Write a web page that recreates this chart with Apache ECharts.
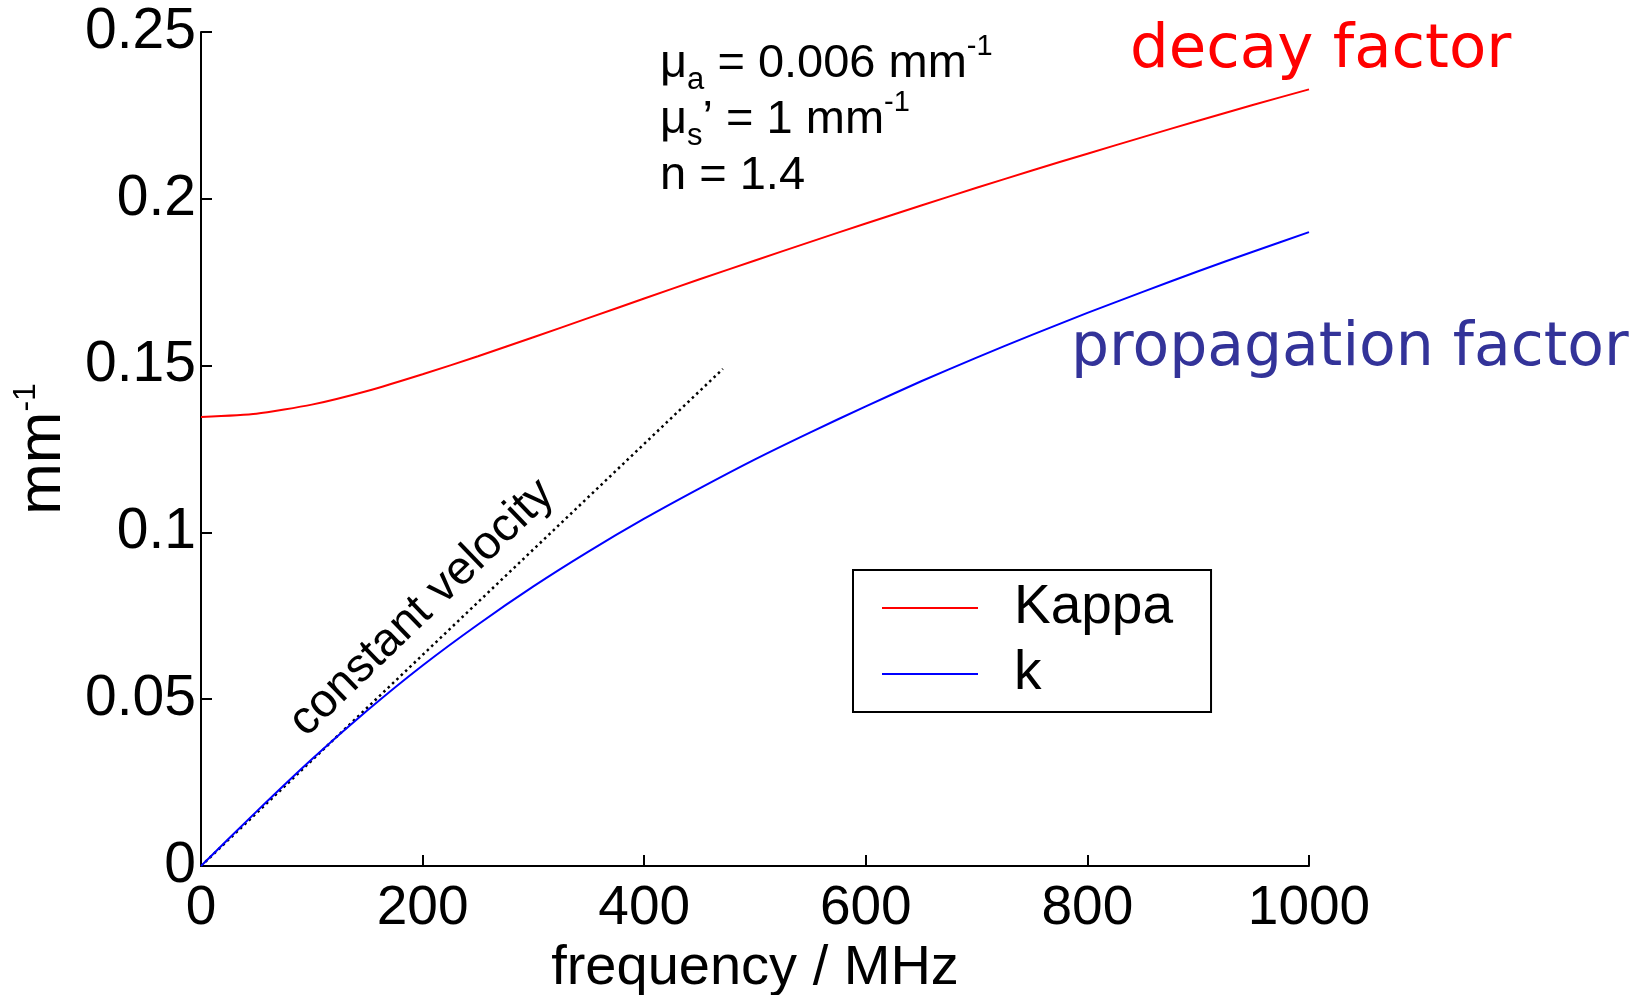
<!DOCTYPE html>
<html>
<head>
<meta charset="utf-8">
<title>Diffusion wave: Kappa and k vs frequency</title>
<script src="https://cdn.jsdelivr.net/npm/echarts@6/dist/echarts.min.js"></script>
<style>
  html, body { margin: 0; padding: 0; background: #fff; }
  #chart { width: 1651px; height: 995px; }
</style>
</head>
<body>
<div id="chart"></div>
<script>
// Modulation frequency (MHz)
const freq = [0, 50, 100, 150, 200, 250, 300, 350, 400, 450, 500,
              550, 600, 650, 700, 750, 800, 850, 900, 950, 1000];
// Decay factor Kappa (mm^-1)
const kappa = [0.1346, 0.1356, 0.1383, 0.1424, 0.1474, 0.1528, 0.1585, 0.1643, 0.1701, 0.1759, 0.1815,
               0.1871, 0.1926, 0.1980, 0.2033, 0.2085, 0.2135, 0.2185, 0.2234, 0.2282, 0.2328];
// Propagation factor k (mm^-1)
const kProp = [0.0000, 0.0163, 0.0320, 0.0466, 0.0601, 0.0724, 0.0838, 0.0943, 0.1041, 0.1132, 0.1219,
               0.1300, 0.1378, 0.1453, 0.1524, 0.1592, 0.1658, 0.1721, 0.1783, 0.1842, 0.1900];
// Constant-velocity reference line (end points)
const cvFreq = [0, 471];
const cvVal = [0, 0.149];

const xTicks = [0, 200, 400, 600, 800, 1000];
const yTicks = [0, 0.05, 0.1, 0.15, 0.2, 0.25];

const SANS = '"Liberation Sans", Arial, Helvetica, sans-serif';
const HAND = '"Comic Sans MS", "DejaVu Sans", sans-serif';

const pairs = (xs, ys) => xs.map((x, i) => [x, ys[i]]);

const chart = echarts.init(document.getElementById('chart'), null, { renderer: 'canvas' });

const axisCommon = {
  type: 'value',
  axisLine: { show: true, lineStyle: { color: '#000', width: 2 } },
  axisTick: { show: true, inside: true, length: 11, lineStyle: { color: '#000', width: 2 } },
  splitLine: { show: false },
  axisLabel: { color: '#000', fontSize: 55, fontFamily: SANS, formatter: v => String(v) },
  nameTextStyle: { color: '#000', fontSize: 56, fontFamily: SANS }
};

// sub/superscript styles for the parameter block
const paramRich = {
  m: { fontSize: 47, fontFamily: SANS, lineHeight: 64 },
  s: { fontSize: 31, fontFamily: SANS, verticalAlign: 'bottom', lineHeight: 30 },
  n: { fontSize: 47, fontFamily: SANS, lineHeight: 64 },
  p: { fontSize: 29, fontFamily: SANS, verticalAlign: 'top', lineHeight: 44 }
};

chart.setOption({
  backgroundColor: '#fff',
  animation: false,
  grid: { left: 201, right: 342, top: 32, bottom: 129, containLabel: false, outerBoundsMode: 'none' },
  xAxis: Object.assign({}, axisCommon, {
    min: xTicks[0], max: xTicks[xTicks.length - 1], interval: xTicks[1] - xTicks[0],
    name: 'frequency / MHz', nameLocation: 'middle', nameGap: 72,
    axisLabel: Object.assign({}, axisCommon.axisLabel, { margin: 15 })
  }),
  yAxis: Object.assign({}, axisCommon, {
    min: yTicks[0], max: yTicks[yTicks.length - 1], interval: yTicks[1] - yTicks[0],
    name: '{a|mm}{b|-1}', nameLocation: 'middle', nameRotate: 90, nameGap: 103,
    nameTextStyle: {
      color: '#000', fontFamily: SANS,
      rich: {
        a: { fontSize: 62, fontFamily: SANS, color: '#000', lineHeight: 66 },
        b: { fontSize: 32, fontFamily: SANS, color: '#000', verticalAlign: 'top', lineHeight: 40 }
      }
    },
    axisLabel: Object.assign({}, axisCommon.axisLabel, { margin: 5, fontSize: 57 })
  }),
  legend: {
    data: [{ name: 'Kappa', icon: 'rect' }, { name: 'k', icon: 'rect' }],
    orient: 'vertical',
    left: 853, top: 570,
    padding: [10, 38, 10, 29],
    itemWidth: 96, itemHeight: 2, itemGap: 10,
    borderColor: '#000', borderWidth: 2, borderRadius: 0,
    backgroundColor: '#fff',
    textStyle: { color: '#000', fontSize: 55, fontFamily: SANS, lineHeight: 56, padding: [0, 0, 0, 31] },
    selectedMode: false
  },
  series: [
    {
      name: 'Kappa', type: 'line', data: pairs(freq, kappa), symbol: 'none', smooth: 0.2,
      lineStyle: { color: '#ff0000', width: 2 }, itemStyle: { color: '#ff0000' }, z: 3
    },
    {
      name: 'k', type: 'line', data: pairs(freq, kProp), symbol: 'none', smooth: 0.2,
      lineStyle: { color: '#0000ff', width: 2 }, itemStyle: { color: '#0000ff' }, z: 3
    },
    {
      name: 'constant velocity', type: 'line', data: pairs(cvFreq, cvVal), symbol: 'none',
      lineStyle: { color: '#000', width: 2.5, type: [2.5, 3.5] }, z: 2
    }
  ],
  graphic: [
    {
      type: 'text', left: 660, top: 32, z: 10,
      style: { text: '{m|μ}{s|a}{n| = 0.006 mm}{p|-1}', fill: '#000', rich: paramRich }
    },
    {
      type: 'text', left: 660, top: 88, z: 10,
      style: { text: '{m|μ}{s|s}{n|’ = 1 mm}{p|-1}', fill: '#000', rich: paramRich }
    },
    {
      type: 'text', left: 660, top: 153, z: 10,
      style: { text: 'n = 1.4', fill: '#000', font: '47px ' + SANS }
    },
    {
      type: 'text', x: 422, y: 608, rotation: 44 * Math.PI / 180, z: 10,
      style: {
        text: 'constant velocity', fill: '#000', font: '47px ' + SANS,
        align: 'center', verticalAlign: 'middle'
      }
    },
    {
      type: 'text', x: 1130, y: 21, z: 10,
      style: { text: 'decay factor', fill: '#ff0000', font: '61px ' + HAND }
    },
    {
      type: 'text', x: 1071, y: 319, z: 10,
      style: { text: 'propagation factor', fill: '#333399', font: '60px ' + HAND }
    }
  ]
});
</script>
</body>
</html>
